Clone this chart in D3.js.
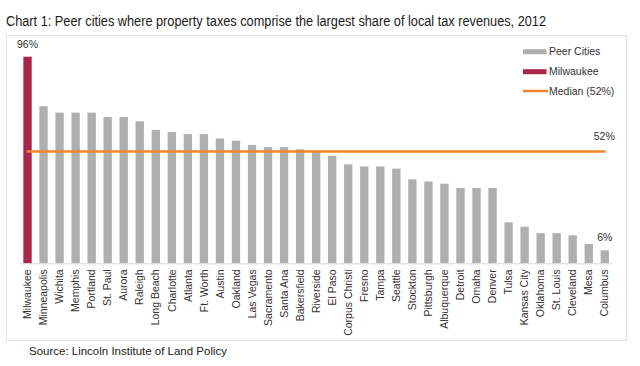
<!DOCTYPE html>
<html>
<head>
<meta charset="utf-8">
<script src="https://cdn.jsdelivr.net/npm/d3@7"></script>
<style>
  html, body { margin: 0; padding: 0; background: #fff; }
  svg { display: block; font-family: "Liberation Sans", Arial, sans-serif; }
</style>
</head>
<body>
<svg id="chart" width="640" height="366"></svg>
<script>
const cities = ["Milwaukee","Minneapolis","Wichita","Memphis","Portland","St. Paul","Aurora","Raleigh","Long Beach","Charlotte","Atlanta","Ft. Worth","Austin","Oakland","Las Vegas","Sacramento","Santa Ana","Bakersfield","Riverside","El Paso","Corpus Christi","Fresno","Tampa","Seattle","Stockton","Pittsburgh","Albuquerque","Detroit","Omaha","Denver","Tulsa","Kansas City","Oklahoma","St. Louis","Cleveland","Mesa","Columbus"];
const shares = [96,73,70,70,70,68,68,66,62,61,60,60,58,57,55,54,54,53,52,50,46,45,45,44,39,38,37,35,35,35,19,17,14,14,13,9,6];
const highlight = ["Milwaukee"];
const median = 52;
const legendLabels = ["Peer Cities","Milwaukee","Median (52%)"];
const titleText = "Chart 1: Peer cities where property taxes comprise the largest share of local tax revenues, 2012";
const sourceText = "Source: Lincoln Institute of Land Policy";

const colors = { peer: "#afafaf", mil: "#a9254b", median: "#f0852d", text: "#333" };

const svg = d3.select("#chart");

// title
svg.append("text").attr("x", 6).attr("y", 26)
  .attr("font-size", 14).attr("fill", "#1a1a1a")
  .attr("textLength", 540).attr("lengthAdjust", "spacingAndGlyphs")
  .text(titleText);

// frame
svg.append("rect").attr("x", 6.5).attr("y", 35.5).attr("width", 620).attr("height", 305)
  .attr("fill", "#fff").attr("stroke", "#e2e2e2").attr("stroke-width", 1);

const x = d3.scaleBand().domain(cities).range([19.5, 612.8]).paddingInner(0.48).paddingOuter(0.24);
const y = d3.scaleLinear().domain([0, 100]).range([263.3, 48.1]);

// bars
svg.append("g").selectAll("rect").data(cities).join("rect")
  .attr("x", d => x(d))
  .attr("width", x.bandwidth())
  .attr("y", (d, i) => y(shares[i]))
  .attr("height", (d, i) => y(0) - y(shares[i]))
  .attr("fill", d => highlight.includes(d) ? colors.mil : colors.peer);

// axis
const ax = svg.append("g").attr("transform", `translate(0,${y(0)})`)
  .call(d3.axisBottom(x).tickSize(0).tickSizeOuter(0));
ax.select(".domain").attr("stroke", "#d9d9d9").attr("d", `M19.5,0.5H612.8`);
ax.selectAll("text")
  .attr("transform", "rotate(-90)")
  .attr("text-anchor", "end")
  .attr("x", -6).attr("y", 0).attr("dy", "0.35em")
  .attr("font-size", 10.5).attr("fill", colors.text)
  .attr("font-family", "'Liberation Sans', Arial, sans-serif");

// median line
const xFirst = x(cities[0]) + x.bandwidth() / 2 - 1;
const xLast = x(cities[cities.length - 1]) + x.bandwidth() / 2 + 1;
svg.append("line").attr("x1", xFirst).attr("x2", xLast)
  .attr("y1", y(median)).attr("y2", y(median))
  .attr("stroke", colors.median).attr("stroke-width", 2.5);

// value labels
svg.append("text").attr("x", x(cities[0]) + x.bandwidth() / 2).attr("y", y(shares[0]) - 9)
  .attr("text-anchor", "middle").attr("font-size", 10.5).attr("fill", colors.text).text(shares[0] + "%");
svg.append("text").attr("x", xLast + 9).attr("y", y(median) - 11)
  .attr("text-anchor", "end").attr("font-size", 10.5).attr("fill", colors.text).text(median + "%");
const li = cities.length - 1;
svg.append("text").attr("x", x(cities[li]) + x.bandwidth() / 2).attr("y", y(shares[li]) - 9)
  .attr("text-anchor", "middle").attr("font-size", 10.5).attr("fill", colors.text).text(shares[li] + "%");

// legend
const lg = svg.append("g").attr("transform", "translate(523,0)");
const ly = [51.7, 71.7, 91];
lg.append("rect").attr("x", 0).attr("y", ly[0] - 2.5).attr("width", 23.5).attr("height", 5).attr("fill", colors.peer);
lg.append("rect").attr("x", 0).attr("y", ly[1] - 2.5).attr("width", 23.5).attr("height", 5).attr("fill", colors.mil);
lg.append("line").attr("x1", 0).attr("x2", 25).attr("y1", ly[2]).attr("y2", ly[2]).attr("stroke", colors.median).attr("stroke-width", 2.5);
legendLabels.forEach((t, i) => {
  lg.append("text").attr("x", 26).attr("y", ly[i]).attr("dy", "0.35em")
    .attr("font-size", 10.5).attr("fill", colors.text).text(t);
});

// source
svg.append("text").attr("x", 29).attr("y", 355).attr("font-size", 11.5).attr("fill", "#222")
  .attr("textLength", 198).attr("lengthAdjust", "spacingAndGlyphs").text(sourceText);
</script>
</body>
</html>
